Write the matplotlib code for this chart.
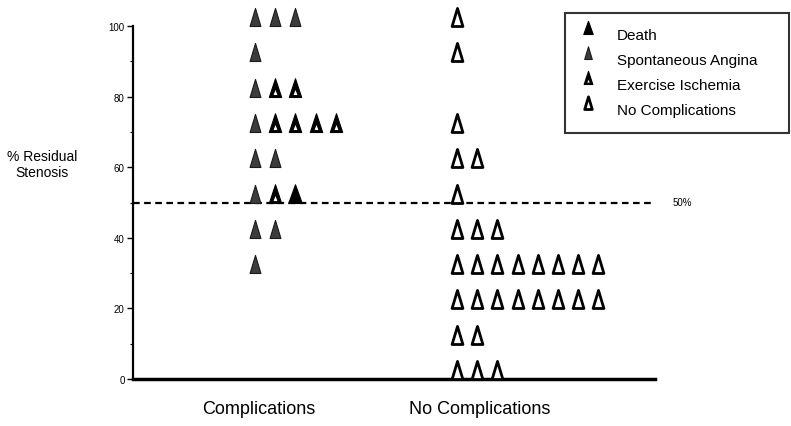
import numpy as np
import matplotlib
matplotlib.use('Agg')
import matplotlib.pyplot as plt
from matplotlib.path import Path
from matplotlib.lines import Line2D

plt.rcParams['font.family'] = ['Liberation Sans', 'DejaVu Sans']

# data: one string per row, one letter per marker (D=death, S=spontaneous angina,
# E=exercise ischemia, N=no complications)
comp_levels = [100, 90, 80, 70, 60, 50, 40, 30]
comp_rows = ['SSS', 'S', 'SEE', 'SEEEE', 'SS', 'SED', 'SS', 'S']
nocomp_levels = [100, 90, 70, 60, 50, 40, 30, 20, 10, 0]
nocomp_counts = [1, 1, 1, 2, 1, 3, 8, 8, 2, 3]
group_labels = ['Complications', 'No Complications']
group_label_x = [0.02, 1.11]
legend_labels = ['Death', 'Spontaneous Angina', 'Exercise Ischemia', 'No Complications']
threshold = 50

# triangle markers with their base on the data value
def tri(w):
    return [(-w, 0), (w, 0), (0, 1), (-w, 0)]

codes = [Path.MOVETO, Path.LINETO, Path.LINETO, Path.CLOSEPOLY]
narrow = Path(tri(0.3), codes)
wide = Path(tri(0.36), codes)
# black triangle with a white triangular hole near the bottom
hole = [(-0.15, 0.1), (0, 0.48), (0.15, 0.1), (-0.15, 0.1)]
exer = Path(tri(0.33) + hole, codes + codes)

styles = {
    'D': dict(marker=wide, ms=27, mfc='black', mec='black', mew=0.8),
    'S': dict(marker=narrow, ms=26, mfc='#3c3c3c', mec='#1a1a1a', mew=0.8),
    'E': dict(marker=exer, ms=27, mfc='black', mec='black', mew=0.8),
    'N': dict(marker=narrow, ms=26, mfc='white', mec='black', mew=2.0),
}

fig = plt.figure(figsize=(7.91, 4.27), dpi=100)
ax = fig.add_axes([133/791, 47/427, 522/791, 353/427])

step = 0.1
for lev, row in zip(comp_levels, comp_rows):
    for i, k in enumerate(row):
        ax.plot(0 + i*step, lev, ls='none', clip_on=False, zorder=3, **styles[k])
for lev, n in zip(nocomp_levels, nocomp_counts):
    for i in range(n):
        ax.plot(1 + i*step, lev, ls='none', clip_on=False, zorder=3, **styles['N'])

ax.axhline(threshold, color='black', lw=1.6, ls=(0, (3, 2)), zorder=2)
ax.text(1.033, threshold, '50%', transform=ax.get_yaxis_transform(),
        fontsize=7, va='center', ha='left')

ax.set_xlim(-0.604, 1.98)
ax.set_ylim(0, 100)
ax.set_yticks(np.arange(0, 101, 20))
ax.set_yticks(np.arange(10, 100, 20), minor=True)
ax.tick_params(axis='y', which='major', labelsize=7, length=4, width=1, pad=2)
ax.tick_params(axis='y', which='minor', length=2, width=0.8)
ax.set_xticks(group_label_x)
ax.set_xticklabels(group_labels, fontsize=13)
ax.tick_params(axis='x', length=0, pad=15)

for s in ['top', 'right']:
    ax.spines[s].set_visible(False)
ax.spines['left'].set_linewidth(1.6)
ax.spines['bottom'].set_linewidth(2.5)

fig.text(42/791, 1 - 165/427, '% Residual\nStenosis', ha='center', va='center',
         fontsize=10, linespacing=1.1)

handles = [Line2D([], [], ls='none', **dict(styles[k], ms=styles[k]['ms']*0.7))
           for k in 'DSEN']
leg = fig.legend(handles, legend_labels, loc='upper left',
                 bbox_to_anchor=(565/791, 1 - 145/427, 224/791, 131/427),
                 mode='expand', fontsize=11,
                 frameon=True, fancybox=False, edgecolor='black',
                 handletextpad=1.4, labelspacing=0.72, borderpad=1.0,
                 handlelength=1.0, borderaxespad=0)
leg.get_frame().set_linewidth(1.5)

fig.savefig('out.png', dpi=100)
